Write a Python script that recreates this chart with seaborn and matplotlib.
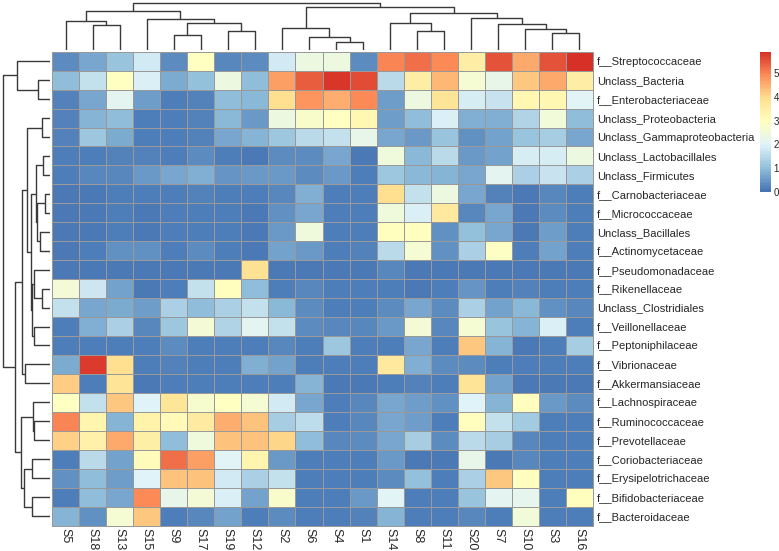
import numpy as np
import pandas as pd
import matplotlib
matplotlib.use("Agg")
import matplotlib.pyplot as plt
import seaborn as sns
from matplotlib.colors import LinearSegmentedColormap

samples = ["S5", "S18", "S13", "S15", "S9", "S17", "S19", "S12", "S2", "S6",
           "S4", "S1", "S14", "S8", "S11", "S20", "S7", "S10", "S3", "S16"]

taxa = ["f__Streptococcaceae", "Unclass_Bacteria", "f__Enterobacteriaceae",
        "Unclass_Proteobacteria", "Unclass_Gammaproteobacteria",
        "Unclass_Lactobacillales", "Unclass_Firmicutes", "f__Carnobacteriaceae",
        "f__Micrococcaceae", "Unclass_Bacillales", "f__Actinomycetaceae",
        "f__Pseudomonadaceae", "f__Rikenellaceae", "Unclass_Clostridiales",
        "f__Veillonellaceae", "f__Peptoniphilaceae", "f__Vibrionaceae",
        "f__Akkermansiaceae", "f__Lachnospiraceae", "f__Ruminococcaceae",
        "f__Prevotellaceae", "f__Coriobacteriaceae", "f__Erysipelotrichaceae",
        "f__Bifidobacteriaceae", "f__Bacteroidaceae"]

streptococcaceae = [0.3, 0.7, 1.1, 1.8, 0.3, 2.9, 0.25, 0.35, 1.8, 2.4, 2.4, 0.35, 5.0, 5.2, 4.9, 3.5, 5.5, 4.6, 5.5, 5.9]
unclass_bacteria = [1.0, 1.6, 2.9, 1.9, 0.75, 1.05, 2.4, 1.0, 4.7, 5.4, 5.8, 5.6, 1.5, 3.5, 4.4, 2.6, 2.2, 4.2, 4.6, 3.5]
enterobacteriaceae = [0.2, 0.7, 2.1, 0.55, 0.15, 0.2, 1.0, 0.9, 3.9, 4.8, 4.5, 4.95, 0.55, 2.4, 3.8, 1.85, 1.7, 3.2, 3.2, 2.05]
proteobacteria = [0.2, 0.85, 1.0, 0.15, 0.15, 0.2, 0.9, 0.5, 2.4, 2.75, 2.9, 3.2, 0.55, 1.0, 1.9, 0.8, 0.78, 1.4, 2.5, 1.0]
gammaproteobacteria = [0.2, 1.15, 0.75, 0.15, 0.15, 0.2, 0.7, 0.85, 1.15, 1.5, 1.6, 2.2, 0.7, 0.5, 1.1, 0.4, 0.6, 1.1, 1.25, 0.65]
lactobacillales = [0.15, 0.15, 0.2, 0.2, 0.15, 0.3, 0.15, 0.1, 0.35, 0.3, 0.65, 0.1, 2.45, 0.9, 1.5, 0.5, 0.6, 1.85, 1.85, 2.4]
firmicutes = [0.15, 0.25, 0.28, 0.5, 0.7, 0.78, 0.45, 0.5, 0.5, 0.35, 0.5, 0.15, 1.15, 0.9, 0.85, 0.65, 2.1, 1.35, 1.7, 1.35]
carnobacteriaceae = [0.1, 0.1, 0.12, 0.12, 0.12, 0.2, 0.12, 0.12, 0.25, 0.8, 0.15, 0.15, 3.9, 1.6, 2.4, 0.65, 0.2, 0.1, 0.25, 0.15]
micrococcaceae = [0.1, 0.1, 0.15, 0.1, 0.12, 0.15, 0.12, 0.1, 0.4, 0.7, 0.15, 0.15, 2.45, 1.9, 3.65, 0.25, 0.7, 0.1, 0.35, 0.15]
bacillales = [0.1, 0.1, 0.15, 0.1, 0.12, 0.15, 0.12, 0.1, 0.5, 2.45, 0.15, 0.15, 2.95, 2.95, 0.4, 1.05, 0.65, 0.1, 0.55, 0.12]
actinomycetaceae = [0.1, 0.12, 0.38, 0.38, 0.12, 0.3, 0.12, 0.1, 0.6, 0.5, 0.15, 0.2, 1.5, 2.6, 0.38, 1.35, 2.85, 0.12, 0.6, 0.12]
pseudomonadaceae = [0.08, 0.08, 0.1, 0.08, 0.08, 0.1, 0.08, 3.85, 0.1, 0.1, 0.1, 0.1, 0.25, 0.1, 0.1, 0.1, 0.1, 0.1, 0.1, 0.1]
rikenellaceae = [2.55, 1.75, 0.6, 0.1, 0.12, 1.6, 2.95, 1.0, 0.12, 0.25, 0.12, 0.12, 0.15, 0.1, 0.12, 0.45, 0.12, 0.2, 0.12, 0.12]
clostridiales = [1.65, 0.7, 0.72, 0.55, 1.3, 1.0, 1.3, 1.6, 0.9, 0.3, 0.12, 0.15, 0.32, 0.7, 0.3, 1.35, 0.6, 0.9, 0.4, 0.25]
veillonellaceae = [0.15, 0.8, 1.3, 0.25, 1.15, 2.55, 1.4, 2.1, 1.6, 0.3, 0.25, 0.28, 0.5, 2.55, 0.28, 2.65, 1.1, 0.85, 1.9, 0.15]
peptoniphilaceae = [0.12, 0.12, 0.15, 0.15, 0.3, 0.15, 0.15, 0.12, 0.25, 0.12, 1.15, 0.12, 0.12, 0.7, 0.12, 4.2, 0.85, 0.1, 0.12, 1.25]
vibrionaceae = [0.75, 5.75, 3.95, 0.12, 0.2, 0.15, 0.15, 0.8, 0.6, 0.12, 0.12, 0.12, 3.65, 0.78, 0.3, 0.3, 0.12, 0.12, 0.12, 0.12]
akkermansiaceae = [4.15, 0.12, 3.8, 0.1, 0.12, 0.12, 0.12, 0.12, 0.12, 0.85, 0.1, 0.1, 0.12, 0.2, 0.12, 3.8, 0.6, 0.1, 0.1, 0.1]
lachnospiraceae = [2.9, 1.6, 4.2, 2.0, 3.75, 2.7, 2.9, 2.65, 1.8, 0.65, 0.12, 0.25, 0.7, 0.55, 0.4, 2.0, 0.88, 2.95, 0.5, 0.3]
ruminococcaceae = [5.0, 3.3, 0.85, 3.35, 3.1, 3.55, 4.5, 4.3, 1.25, 1.55, 0.15, 0.28, 0.7, 0.55, 0.12, 2.95, 1.6, 1.2, 0.12, 0.12]
prevotellaceae = [4.1, 3.4, 4.55, 3.45, 1.0, 2.45, 4.25, 4.25, 4.05, 1.0, 0.28, 0.35, 0.7, 1.25, 0.35, 1.5, 1.25, 0.25, 0.12, 0.12]
coriobacteriaceae = [0.12, 1.5, 0.6, 3.05, 5.25, 4.7, 2.05, 3.3, 0.5, 0.12, 0.12, 0.12, 0.5, 0.1, 0.1, 2.2, 0.1, 0.28, 0.12, 0.12]
erysipelotrichaceae = [0.4, 1.0, 0.55, 1.95, 4.3, 4.3, 1.8, 1.3, 1.65, 0.12, 0.12, 0.15, 0.32, 1.05, 0.12, 1.3, 4.2, 2.95, 0.12, 0.12]
bifidobacteriaceae = [0.15, 1.0, 0.7, 4.95, 2.2, 2.55, 1.9, 0.6, 2.75, 0.12, 0.12, 0.52, 2.05, 0.12, 0.12, 1.1, 2.1, 2.15, 0.12, 3.0]
bacteroidaceae = [0.87, 0.38, 2.6, 4.2, 0.12, 0.28, 0.6, 0.12, 0.35, 0.12, 0.12, 0.2, 0.87, 0.12, 0.12, 0.28, 0.15, 2.5, 0.12, 0.12]

rows = [streptococcaceae, unclass_bacteria, enterobacteriaceae, proteobacteria,
        gammaproteobacteria, lactobacillales, firmicutes, carnobacteriaceae,
        micrococcaceae, bacillales, actinomycetaceae, pseudomonadaceae,
        rikenellaceae, clostridiales, veillonellaceae, peptoniphilaceae,
        vibrionaceae, akkermansiaceae, lachnospiraceae, ruminococcaceae,
        prevotellaceae, coriobacteriaceae, erysipelotrichaceae,
        bifidobacteriaceae, bacteroidaceae]

# Cluster trees: (merge height, left, right); leaves are positions in display order
col_tree = (47.3,
            (39.3, (29.0, 0, (25.0, 1, 2)),
                   (31.3, 3, (26.7, (15.0, 4, 5), (19.0, 6, 7)))),
            (42.7, (22.3, 8, (13.3, 9, (8.3, 10, 11))),
                   (36.7, (26.7, 12, (19.3, 13, 14)),
                          (31.7, 15, (25.7, 16, (20.7, 17, (16.7, 18, 19)))))))

row_tree = (47.3,
            (32.7, 0, (12.3, 1, 2)),
            (35.0,
             (27.7,
              (23.3, (7.7, 3, 4),
                     (19.3, (14.0, (6.7, 5, 6), (13.3, (5.0, 7, 8), (10.0, 9, 10))),
                            (18.0, (15.7, 11, (8.3, 12, 13)), (15.7, 14, 15)))),
              (25.0, 16, 17)),
             (29.3, (16.7, 18, (15.7, 19, 20)),
                    (26.0, (17.7, 21, 22), (18.3, 23, 24)))))

sns.set_theme(style="white")
plt.rcParams['font.family'] = ['Liberation Sans', 'DejaVu Sans']

W, H = 779, 551
fig = plt.figure(figsize=(W / 100, H / 100), dpi=100)


def box(x0, y0, x1, y1):
    return [x0 / W, 1 - y1 / H, (x1 - x0) / W, (y1 - y0) / H]


HM_TOP, HM_BOT = 51.7, 525.5
ax_h = fig.add_axes(box(52, HM_TOP, 593, HM_BOT))
ax_c = fig.add_axes(box(52, 2, 593, 50))
ax_r = fig.add_axes(box(2, HM_TOP, 50, HM_BOT))
cax = fig.add_axes(box(760, 51.7, 771, 191.7))

palette = ["#4575B4", "#91BFDB", "#E0F3F8", "#FFFFBF", "#FEE090", "#FC8D59", "#D73027"]
cmap = LinearSegmentedColormap.from_list("rdylbu_r", palette, N=100)

df = pd.DataFrame(rows, index=taxa, columns=samples)
sns.heatmap(df, ax=ax_h, cmap=cmap, vmin=0, vmax=float(df.values.max()),
            linewidths=0.6, linecolor="#999999", cbar_ax=cax,
            xticklabels=True, yticklabels=True)
ax_h.collections[0].set_clip_on(False)

ax_h.yaxis.tick_right()
ax_h.tick_params(axis='y', length=0, pad=3, labelsize=8, rotation=0)
ax_h.tick_params(axis='x', length=0, pad=2, labelsize=9)
for t in ax_h.get_xticklabels():
    t.set_rotation(270)
    t.set_ha('center')
    t.set_va('top')
for t in ax_h.get_yticklabels():
    t.set_ha('left')
ax_h.set_xlabel("")
ax_h.set_ylabel("")

cbar = ax_h.collections[0].colorbar
cbar.set_ticks([0, 1, 2, 3, 4, 5])
cbar.outline.set_visible(False)
cax.tick_params(length=0, labelsize=7, pad=2)

line_kw = dict(color="#3a3a3a", lw=1.0, solid_capstyle='butt')


def draw(ax, node, orient):
    if isinstance(node, int):
        return node + 0.5, 0.0
    h, left, right = node
    pl, hl = draw(ax, left, orient)
    pr, hr = draw(ax, right, orient)
    if orient == 'top':
        ax.plot([pl, pl, pr, pr], [hl, h, h, hr], **line_kw)
    else:
        ax.plot([hl, h, h, hr], [pl, pl, pr, pr], **line_kw)
    return (pl + pr) / 2, h


draw(ax_c, col_tree, 'top')
ax_c.set_xlim(0, len(samples))
ax_c.set_ylim(0, 48)
ax_c.axis('off')

draw(ax_r, row_tree, 'left')
ax_r.set_ylim(len(taxa), 0)
ax_r.set_xlim(48, 0)
ax_r.axis('off')

fig.savefig("out.png", dpi=100)
